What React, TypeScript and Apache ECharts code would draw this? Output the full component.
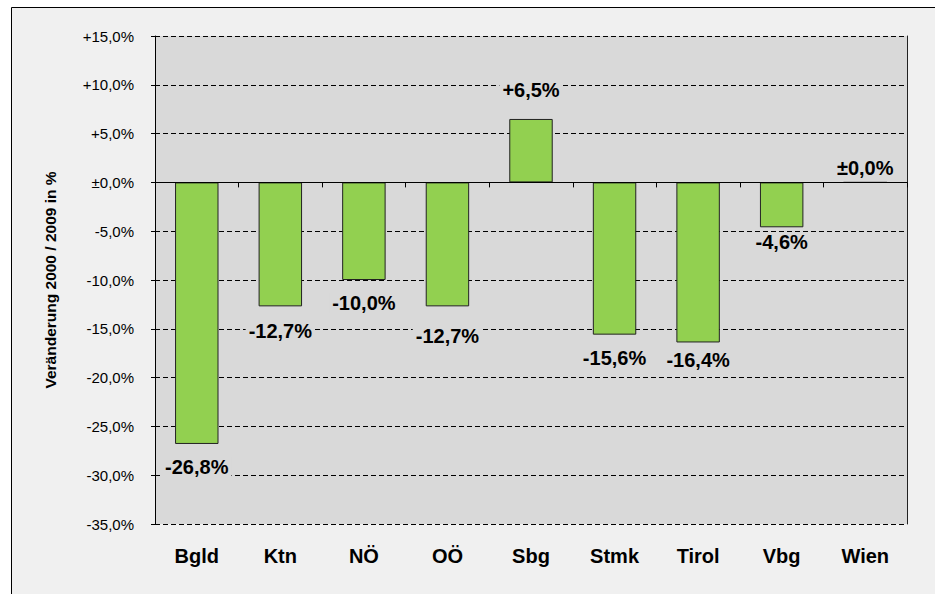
import React, { useEffect, useRef } from "react";
import * as echarts from "echarts";

const categories = ["Bgld", "Ktn", "NÖ", "OÖ", "Sbg", "Stmk", "Tirol", "Vbg", "Wien"];
const changes = [-26.8, -12.7, -10.0, -12.7, 6.5, -15.6, -16.4, -4.6, 0.0];
const yMin = -35;
const yMax = 15;
const yStep = 5;
const yAxisTitle = "Veränderung 2000 / 2009 in %";

// label distance from bar end (style only)
const labelGap = [13, 15, 13, 20, 19, 13, 8, 5, 4];

const fmt = (v: number) => {
  const sign = v > 0 ? "+" : v < 0 ? "-" : "±";
  return sign + Math.abs(v).toFixed(1).replace(".", ",") + "%";
};

const FONT = "'Liberation Sans', Arial, sans-serif";

export default function App() {
  const ref = useRef<HTMLDivElement>(null);
  useEffect(() => {
    if (!ref.current) return;
    const chart = echarts.init(ref.current, undefined, { renderer: "svg" });
    chart.setOption({
      animation: false,
      backgroundColor: "#ffffff",
      textStyle: { fontFamily: FONT },
      graphic: [
        {
          type: "rect",
          z: -100,
          silent: true,
          shape: { x: 11.5, y: 7.5, width: 960, height: 620 },
          style: { fill: "#f0f0f0", stroke: "#000000", lineWidth: 1 },
        },
      ],
      grid: {
        left: 155,
        top: 36,
        right: 28,
        bottom: 70,
        show: true,
        backgroundColor: "#d9d9d9",
        borderWidth: 0,
      },
      xAxis: [
        {
          type: "category",
          data: categories,
          axisLine: { show: true, onZero: true, lineStyle: { color: "#000000", width: 1 } },
          axisTick: { show: true, length: 5, lineStyle: { color: "#000000" } },
          axisLabel: { show: false },
          splitLine: { show: false },
          z: 5,
        },
        {
          type: "category",
          data: categories,
          position: "bottom",
          axisLine: { show: false, onZero: false },
          axisTick: { show: false },
          axisLabel: {
            show: true,
            margin: 22,
            fontFamily: FONT,
            fontSize: 20,
            fontWeight: "bold",
            color: "#000000",
          },
          splitLine: { show: false },
        },
      ],
      yAxis: [
        {
          type: "value",
          min: yMin,
          max: yMax,
          interval: yStep,
          name: yAxisTitle,
          nameLocation: "middle",
          nameGap: 97,
          nameTextStyle: {
            fontFamily: FONT,
            fontSize: 15.5,
            fontWeight: "bold",
            color: "#000000",
          },
          axisLine: { show: true, lineStyle: { color: "#000000", width: 1 } },
          axisTick: { show: true, length: 4, lineStyle: { color: "#000000" } },
          axisLabel: {
            margin: 21,
            fontFamily: FONT,
            fontSize: 15,
            color: "#000000",
            formatter: (v: number) => fmt(v),
          },
          splitLine: {
            show: true,
            lineStyle: { color: "#000000", width: 1, type: [5, 3] },
          },
        },
        {
          type: "value",
          min: yMin,
          max: yMax,
          interval: yStep,
          position: "right",
          axisLine: { show: true, lineStyle: { color: "#222222", width: 1 } },
          axisTick: { show: false },
          axisLabel: { show: false },
          splitLine: { show: false },
        },
      ],
      series: [
        {
          type: "bar",
          xAxisIndex: 0,
          yAxisIndex: 0,
          barWidth: "52%",
          z: 3,
          itemStyle: { color: "#92d050", borderColor: "#222222", borderWidth: 1 },
          data: changes.map((v, i) => ({
            value: v,
            label: {
              show: true,
              position: v >= 0 ? "top" : "bottom",
              distance: labelGap[i],
            },
          })),
          label: {
            show: true,
            fontFamily: FONT,
            fontSize: 20,
            fontWeight: "bold",
            color: "#000000",
            backgroundColor: "#d9d9d9",
            padding: [0, 3],
            formatter: (p: any) => fmt(p.value),
          },
        },
      ],
    });
    return () => chart.dispose();
  }, []);
  return (
    <div
      ref={ref}
      style={{ position: "absolute", left: 0, top: 0, width: 935, height: 594 }}
    />
  );
}
